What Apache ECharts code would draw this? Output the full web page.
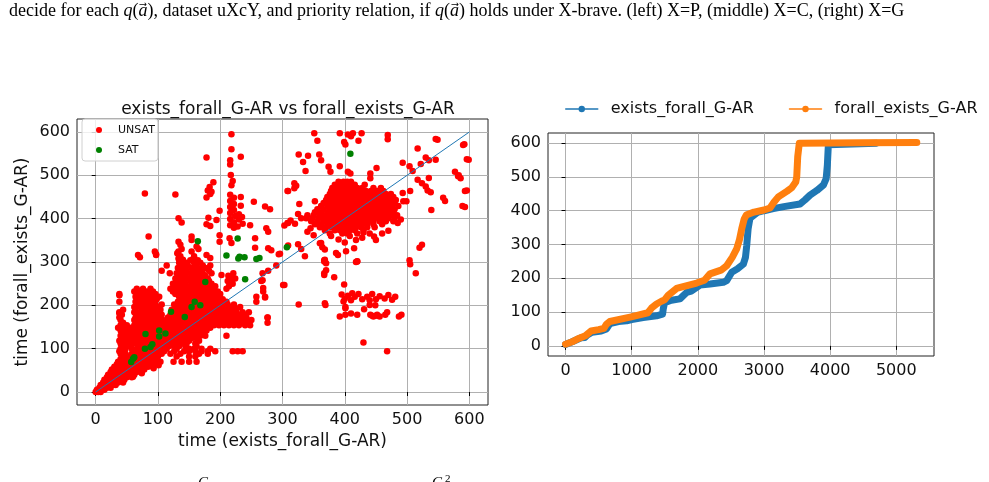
<!DOCTYPE html>
<html lang="en">
<head>
  <meta charset="UTF-8">
  <title>exists_forall vs forall_exists</title>
  <script src="https://cdn.jsdelivr.net/npm/echarts@6/dist/echarts.min.js"></script>
</head>
<body style="margin:0;background:#fff;">
  <div id="main" style="width:989px;height:482px;"></div>
  <script type="text/javascript">
    // tick labels
    var scatterTicks = [0, 100, 200, 300, 400, 500, 600];
    var lineXTicks = [0, 1000, 2000, 3000, 4000, 5000];
    var lineYTicks = [0, 100, 200, 300, 400, 500, 600];

    // UNSAT, dense parts: each row is [y, x1, x2, ...]
    var unsatBandRows = [
      [0, 0, 4, 8],
      [5, 2, 8, 14],
      [10, 6, 12, 18, 24],
      [16, 8, 14, 20, 26, 32],
      [22, 12, 18, 24, 30, 36, 44],
      [28, 14, 20, 26, 32, 38, 46],
      [34, 18, 24, 30, 36, 42, 50, 58],
      [40, 20, 28, 34, 40, 46, 54, 62],
      [46, 24, 32, 38, 44, 50, 58, 66, 74],
      [52, 26, 34, 42, 48, 56, 62, 70, 78],
      [58, 30, 38, 46, 52, 60, 68, 76, 84, 92],
      [64, 34, 42, 50, 58, 66, 72, 80, 90],
      [70, 36, 44, 52, 60, 68, 76, 84, 96, 104, 125, 138, 150, 162],
      [76, 40, 48, 56, 64, 72, 80, 88, 96],
      [82, 44, 52, 60, 68, 76, 84, 92, 100, 130, 150, 160],
      [88, 40, 48, 58, 66, 74, 82, 90, 98, 106, 120, 136, 166, 180],
      [94, 38, 46, 62, 70, 78, 86, 94, 102, 110, 126, 142, 150, 160, 170, 180, 192, 220, 228, 236],
      [100, 40, 48, 58, 66, 74, 82, 90, 98, 106, 114, 130, 150, 158, 170, 184],
      [106, 46, 54, 68, 76, 86, 94, 102, 110, 118, 126, 134, 144, 162],
      [112, 40, 50, 60, 72, 80, 90, 98, 106, 114, 122, 130, 138, 146, 160],
      [118, 38, 46, 56, 66, 76, 84, 94, 102, 110, 118, 126, 134, 142, 150, 166],
      [124, 44, 52, 60, 70, 80, 88, 98, 106, 114, 122, 130, 138, 146, 154, 162],
      [130, 40, 48, 58, 66, 74, 86, 94, 102, 110, 118, 126, 134, 142, 150, 158, 168, 176, 210],
      [136, 44, 54, 64, 72, 82, 90, 100, 108, 116, 124, 132, 140, 148, 156, 164, 172],
      [142, 40, 50, 60, 70, 80, 88, 98, 106, 114, 122, 130, 138, 146, 154, 162, 170, 178],
      [148, 36, 46, 56, 66, 76, 86, 94, 104, 112, 120, 128, 136, 144, 152, 160, 168, 176, 184],
      [154, 40, 50, 62, 72, 82, 92, 102, 110, 118, 126, 134, 142, 150, 158, 166, 174, 182, 190, 198, 206, 214, 222, 230, 240, 248],
      [160, 44, 64, 74, 84, 94, 104, 114, 124, 132, 140, 148, 156, 164, 172, 180, 188, 196, 204, 212, 220, 228, 236, 244, 276],
      [166, 40, 62, 70, 80, 90, 98, 108, 118, 128, 136, 144, 152, 160, 168, 176, 184, 192, 200, 208, 216, 224, 232, 240, 250],
      [172, 38, 64, 74, 84, 94, 104, 116, 126, 136, 144, 152, 160, 168, 176, 184, 192, 200, 208, 216, 224, 232, 242, 276],
      [178, 42, 66, 76, 86, 96, 106, 120, 130, 140, 148, 156, 164, 172, 180, 188, 196, 204, 212, 220, 230, 240],
      [184, 38, 62, 72, 82, 92, 102, 126, 136, 146, 154, 162, 170, 178, 186, 194, 202, 210, 218, 226, 236, 246],
      [190, 44, 64, 74, 84, 94, 104, 122, 132, 142, 150, 158, 166, 174, 182, 190, 198, 206, 216, 226],
      [196, 62, 72, 82, 92, 102, 130, 140, 148, 156, 164, 172, 180, 188, 196, 204, 214, 222, 232],
      [202, 66, 76, 86, 96, 106, 126, 136, 146, 154, 162, 170, 178, 186, 194, 202, 212, 222],
      [208, 38, 64, 74, 84, 94, 132, 142, 152, 160, 168, 176, 184, 192, 200, 210, 258],
      [214, 68, 78, 88, 98, 136, 146, 156, 164, 172, 180, 188, 196, 204],
      [220, 64, 72, 82, 92, 102, 134, 144, 154, 162, 170, 178, 186, 194, 258, 272],
      [226, 38, 66, 76, 86, 96, 128, 140, 150, 158, 166, 174, 182, 190, 200],
      [232, 62, 72, 82, 92, 124, 134, 146, 156, 164, 172, 180, 188, 196, 269],
      [238, 66, 76, 88, 120, 130, 140, 152, 162, 170, 178, 188, 210],
      [244, 128, 138, 148, 160, 170, 180, 192, 214],
      [250, 124, 134, 144, 156, 166, 176, 186, 220],
      [256, 132, 142, 152, 164, 172, 182, 212, 266],
      [262, 128, 138, 150, 160, 170, 180, 218, 224],
      [268, 134, 144, 156, 166, 176, 213],
      [274, 119, 130, 140, 152, 162, 172, 186, 221, 268],
      [280, 106, 136, 146, 158, 168, 182, 277],
      [286, 132, 142, 154, 164, 176],
      [292, 114, 138, 148, 160, 172, 184, 290],
      [298, 134, 146, 158, 168],
      [304, 140, 152, 164]
    ];

    // UNSAT, the cloud round (400, 420): [y, x1, x2, ...]
    var unsatBlobRows = [
      [485, 390, 398, 404, 410],
      [478, 384, 392, 400, 408, 416, 432],
      [471, 380, 388, 396, 404, 412, 420, 428, 446, 458],
      [464, 378, 386, 394, 402, 410, 418, 426, 434, 442, 452, 462],
      [457, 376, 384, 392, 400, 408, 416, 424, 432, 440, 448, 456, 466, 474],
      [450, 372, 380, 388, 396, 404, 412, 420, 428, 436, 444, 452, 460, 468, 478],
      [443, 370, 378, 386, 394, 402, 410, 418, 426, 434, 442, 450, 458, 466, 474, 482],
      [436, 366, 374, 382, 390, 398, 406, 414, 422, 430, 438, 446, 454, 462, 470, 480],
      [429, 362, 372, 380, 388, 396, 404, 412, 420, 428, 436, 444, 452, 460, 468, 476, 486],
      [422, 356, 366, 376, 384, 392, 400, 408, 416, 424, 432, 440, 448, 456, 464, 472, 480],
      [415, 352, 362, 372, 380, 388, 396, 404, 412, 420, 428, 436, 444, 452, 460, 468, 478],
      [408, 340, 350, 360, 370, 378, 386, 394, 402, 410, 418, 426, 434, 442, 450, 458, 466, 474, 484],
      [401, 330, 338, 348, 358, 366, 374, 382, 390, 398, 406, 414, 422, 430, 438, 446, 454, 462, 470, 480],
      [394, 346, 356, 366, 374, 382, 390, 398, 406, 414, 422, 430, 438, 446, 456, 466, 478],
      [387, 352, 362, 372, 380, 388, 396, 404, 412, 420, 428, 436, 446, 460],
      [380, 360, 370, 378, 386, 394, 402, 410, 418, 426, 436, 448],
      [373, 368, 384, 392, 400, 408, 416, 430],
      [366, 376, 396, 404, 420, 440]
    ];

    // UNSAT, scattered points [x, y]
    var unsatPoints = [
      [218, 595], [218, 560], [233, 543], [178, 541], [216, 535], [216, 525], [217, 501], [220, 487], [218, 477],
      [79, 458], [128, 456], [189, 484], [183, 473], [180, 465], [184, 457], [178, 449], [186, 462],
      [309, 464], [233, 450], [233, 430], [254, 439], [272, 428], [280, 422],
      [133, 401], [138, 391], [181, 402], [178, 387], [184, 383], [194, 397], [199, 418],
      [216, 455], [222, 448], [216, 441], [222, 434], [216, 427], [222, 420], [216, 413], [224, 406], [216, 399],
      [222, 392], [216, 385], [222, 379], [230, 410], [230, 398], [236, 388], [228, 382], [235, 404],
      [248, 385], [274, 378], [277, 370], [303, 384], [309, 390],
      [133, 347], [136, 340], [138, 330], [133, 324], [154, 359], [154, 351], [162, 336], [165, 330],
      [199, 362], [199, 347], [215, 355], [218, 344], [256, 355], [256, 333], [277, 332], [296, 319], [309, 338],
      [68, 316], [71, 311], [95, 324], [97, 316], [85, 359],
      [131, 320], [136, 313], [140, 305], [133, 308], [154, 324], [158, 313], [162, 302], [156, 306], [178, 316], [184, 309],
      [351, 597], [392, 597], [405, 594], [413, 597], [427, 597], [356, 580], [399, 577], [401, 571], [410, 590], [422, 580],
      [469, 593], [469, 583], [326, 548], [341, 545], [359, 548], [362, 535], [333, 531], [337, 510], [374, 520], [377, 508],
      [392, 521], [405, 508], [409, 504], [441, 504], [441, 493], [451, 517], [493, 529], [504, 521], [509, 510], [517, 562],
      [530, 541], [522, 526], [546, 536], [535, 535], [546, 584], [590, 570], [596, 537], [577, 508], [582, 498],
      [549, 582], [592, 572], [599, 536], [596, 465], [593, 427], [561, 441], [583, 500], [586, 493], [533, 465], [535, 494],
      [319, 482], [319, 470], [322, 476], [308, 464], [327, 434], [325, 411], [352, 440], [308, 390], [493, 459], [494, 440],
      [505, 464], [499, 440], [517, 490], [524, 482], [530, 474], [538, 461], [558, 448], [593, 464], [589, 429], [539, 420],
      [524, 340], [504, 304],
      [313, 396], [320, 388], [325, 341], [330, 330], [336, 313], [362, 344], [368, 329], [386, 321], [389, 316], [402, 325],
      [415, 332], [418, 351], [428, 356], [447, 359], [450, 351], [420, 302], [368, 305], [340, 370], [350, 362], [345, 378],
      [378, 360], [390, 352], [400, 345], [408, 360], [430, 368], [460, 366], [470, 372], [485, 390], [490, 398],
      [360, 343], [364, 334], [367, 304], [370, 297], [370, 281], [383, 265], [399, 248], [418, 300], [520, 333], [505, 295],
      [514, 274], [430, 114], [468, 94], [326, 202], [368, 205], [401, 196], [303, 247], [367, 301], [367, 274], [367, 270],
      [420, 301], [369, 201],
      [395, 225], [400, 215], [405, 222], [410, 212], [416, 220], [422, 226], [428, 214], [436, 220], [444, 226], [450, 214],
      [456, 221], [464, 216], [470, 224], [476, 213], [481, 220], [398, 209], [412, 228], [440, 212],
      [392, 174], [401, 178], [410, 181], [420, 178], [431, 191], [440, 201], [449, 200], [441, 178], [446, 174], [452, 178],
      [456, 174], [465, 178], [468, 184], [487, 174], [491, 178], [401, 193], [444, 176], [450, 176],
      [38, 223], [38, 182], [202, 270], [272, 218], [269, 240], [301, 247], [294, 318], [282, 327], [268, 258], [276, 172],
      [97, 318], [60, 35], [74, 43], [93, 55], [101, 62]
    ];

    // SAT points [x, y]
    var satPoints = [
      [409, 550], [164, 348], [228, 354], [307, 334], [210, 315], [231, 312], [239, 311], [229, 308], [258, 307],
      [263, 309], [176, 254], [240, 260], [159, 208], [154, 196], [168, 200], [143, 173], [121, 185], [112, 135],
      [102, 142], [102, 128], [80, 134], [91, 110], [88, 104], [79, 100], [60, 77], [57, 69], [62, 80]
    ];

    var diagLine = [[0, 0], [600, 600]];

    // sorted runtimes, [instance index, time]
    var efCurve = [
      [0, 4], [100, 12], [236, 24], [292, 25], [330, 32], [400, 40], [539, 44], [619, 50], [670, 66], [800, 72],
      [922, 74], [1000, 78], [1174, 84], [1376, 89], [1467, 94], [1477, 109], [1497, 128], [1600, 135], [1729, 139],
      [1830, 158], [1900, 162], [2033, 180], [2184, 183], [2385, 188], [2436, 193], [2513, 218], [2600, 228],
      [2688, 242], [2720, 262], [2739, 297], [2760, 346], [2788, 378], [2900, 395], [3000, 400], [3141, 406],
      [3300, 412], [3545, 420], [3620, 432], [3696, 446], [3800, 460], [3898, 476], [3940, 495], [3958, 535],
      [3973, 595], [3980, 600], [4700, 600]
    ];
    var feCurve = [
      [0, 5], [100, 12], [200, 22], [300, 30], [387, 44], [500, 48], [580, 52], [619, 64], [670, 72], [993, 86],
      [1245, 98], [1300, 112], [1376, 124], [1450, 132], [1497, 136], [1553, 150], [1679, 170], [1749, 174],
      [1982, 186], [2100, 194], [2184, 213], [2350, 224], [2436, 237], [2520, 262], [2587, 287], [2630, 315],
      [2663, 346], [2700, 375], [2732, 387], [2850, 396], [3000, 402], [3091, 408], [3150, 425], [3217, 441],
      [3350, 458], [3419, 468], [3480, 485], [3495, 500], [3510, 560], [3534, 600], [4500, 601], [5310, 602]
    ];

    function expandRows(rows) {
      var out = [];
      rows.forEach(function (r) {
        for (var i = 1; i < r.length; i++) out.push([r[i], r[0]]);
      });
      return out;
    }
    var unsatAll = unsatPoints.concat(expandRows(unsatBandRows), expandRows(unsatBlobRows));

    var FONT = 'DejaVu Sans';
    var TXT = '#111';

    function valueAxis(gridIndex, min, max, ticks, extra) {
      var ax = {
        type: 'value',
        gridIndex: gridIndex,
        min: min,
        max: max,
        axisLine: { show: false },
        axisTick: { show: true, length: 4, lineStyle: { color: '#000', width: 1 }, customValues: ticks },
        axisLabel: {
          customValues: ticks, color: TXT, fontSize: 16, fontFamily: FONT, margin: 7,
          formatter: function (v) { return String(v); }
        },
        splitLine: { show: true, lineStyle: { color: '#b0b0b0', width: 1 } }
      };
      for (var k in extra) ax[k] = extra[k];
      return ax;
    }

    var myChart = echarts.init(document.getElementById('main'), null, { renderer: 'canvas' });

    var serif = 'Liberation Serif';
    var option = {
      animation: false,
      backgroundColor: '#fff',
      textStyle: { fontFamily: FONT },
      title: {
        text: 'exists_forall_G-AR vs forall_exists_G-AR',
        left: 283,
        top: 96,
        textAlign: 'center',
        textStyle: { fontSize: 17, fontWeight: 'normal', color: TXT, fontFamily: FONT }
      },
      graphic: [
        {
          type: 'text', left: 9, top: 2,
          style: {
            text: 'decide for each {i|q}({i|a}{v|\u20D7}), dataset uXcY, and priority relation, if {i|q}({i|a}{v|\u20D7}) holds under X-brave. (left) X=P, (middle) X=C, (right) X=G',
            fontFamily: serif, fontSize: 18, fill: '#000',
            rich: {
              i: { fontStyle: 'italic', fontFamily: serif, fontSize: 18 },
              v: { fontFamily: 'DejaVu Serif', fontSize: 16 }
            }
          }
        },
        { type: 'text', left: 198, top: 476, style: { text: 'C', fontFamily: serif, fontStyle: 'italic', fontSize: 15, fill: '#000' } },
        { type: 'text', left: 432, top: 476, style: { text: 'G', fontFamily: serif, fontStyle: 'italic', fontSize: 15, fill: '#000' } },
        { type: 'text', left: 445, top: 474, style: { text: '2', fontFamily: serif, fontSize: 11, fill: '#000' } }
      ],
      legend: [
        {
          data: ['UNSAT', 'SAT'],
          orient: 'vertical',
          left: 82, top: 119,
          padding: [4, 3, 4, 14],
          itemWidth: 6, itemHeight: 6, itemGap: 6,
          icon: 'circle',
          textStyle: { fontSize: 11, fontFamily: FONT, color: TXT, lineHeight: 14, padding: [0, 0, 0, 11] },
          borderColor: '#d0d0d0', borderWidth: 1, borderRadius: 3,
          backgroundColor: 'rgba(255,255,255,0.8)',
          z: 10
        },
        {
          data: ['exists_forall_G-AR', 'forall_exists_G-AR'],
          left: 565, top: 101,
          padding: 0,
          itemWidth: 32, itemHeight: 8, itemGap: 35,
          textStyle: { fontSize: 16, fontFamily: FONT, color: TXT, padding: [0, 0, 0, 8] },
          lineStyle: { width: 1.5 }
        }
      ],
      grid: [
        { left: 77, top: 119, width: 411, height: 286, show: true, borderColor: '#222', borderWidth: 1, backgroundColor: 'transparent' },
        { left: 548, top: 133, width: 386, height: 223, show: true, borderColor: '#222', borderWidth: 1, backgroundColor: 'transparent' }
      ],
      xAxis: [
        valueAxis(0, -30, 630, scatterTicks, {
          name: 'time (exists_forall_G-AR)', nameLocation: 'middle', nameGap: 28,
          nameTextStyle: { fontSize: 17, color: TXT, fontFamily: FONT }
        }),
        valueAxis(1, -265, 5570, lineXTicks, {})
      ],
      yAxis: [
        valueAxis(0, -30, 630, scatterTicks, {
          name: 'time (forall_exists_G-AR)', nameLocation: 'middle', nameGap: 46,
          nameTextStyle: { fontSize: 17, color: TXT, fontFamily: FONT }
        }),
        valueAxis(1, -30, 630, lineYTicks, {})
      ],
      series: [
        {
          name: 'UNSAT', type: 'scatter', xAxisIndex: 0, yAxisIndex: 0,
          data: unsatAll, symbolSize: 6.5, itemStyle: { color: '#ff0000', opacity: 1 }, z: 2
        },
        {
          name: 'SAT', type: 'scatter', xAxisIndex: 0, yAxisIndex: 0,
          data: satPoints, symbolSize: 6.5, itemStyle: { color: '#008000', opacity: 1 }, z: 3
        },
        {
          name: 'diag', type: 'line', xAxisIndex: 0, yAxisIndex: 0,
          data: diagLine, showSymbol: false, symbol: 'none',
          lineStyle: { color: '#1f77b4', width: 1 }, z: 4
        },
        {
          name: 'exists_forall_G-AR', type: 'line', xAxisIndex: 1, yAxisIndex: 1,
          data: efCurve, symbol: 'circle', symbolSize: 5, showSymbol: false,
          itemStyle: { color: '#1f77b4' },
          lineStyle: { color: '#1f77b4', width: 7, cap: 'round', join: 'round' }, z: 3
        },
        {
          name: 'forall_exists_G-AR', type: 'line', xAxisIndex: 1, yAxisIndex: 1,
          data: feCurve, symbol: 'circle', symbolSize: 5, showSymbol: false,
          itemStyle: { color: '#ff7f0e' },
          lineStyle: { color: '#ff7f0e', width: 7, cap: 'round', join: 'round' }, z: 4
        }
      ]
    };

    myChart.setOption(option);
  </script>
</body>
</html>
